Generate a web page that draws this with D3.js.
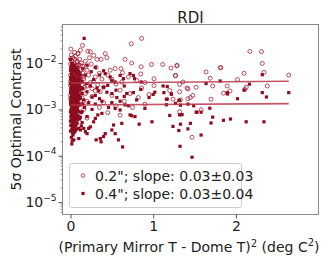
<!DOCTYPE html>
<html><head><meta charset="utf-8">
<script src="https://cdn.jsdelivr.net/npm/d3@7"></script>
<style>body{margin:0;background:#fff}svg{display:block;font-family:"DejaVu Sans",sans-serif}</style>
</head><body><svg id="c" width="332" height="266"></svg>
<script>
const title = "RDI";
const xLabel = ["(Primary Mirror T - Dome T)", "2", " (deg C", "2", ")"];
const yLabel = "5σ Optimal Contrast";
const xTicks = [0, 1, 2];
const yTicks = [1e-5, 1e-4, 1e-3, 1e-2];
const yTickExp = ["−5", "−4", "−3", "−2"];
const legendLabels = ["0.2\"; slope: 0.03±0.03", "0.4\"; slope: 0.03±0.04"];
const fitX = [0, 2.64];
const fit02 = [3.7e-3, 4.05e-3];
const fit04 = [1.24e-3, 1.33e-3];

// 0.2" open circles [x, contrast]
const s02 = [
[0.004,2.0e-2],[0.145,2.4e-2],[0.735,2.6e-2],[0.86,3.4e-2],[2.17,1.78e-2],[2.31,1.76e-2],[2.32,9.8e-3],[2.34,6.3e-3],[2.64,5.5e-3],[2.38,3.2e-3],[2.10,6.0e-3],[2.02,4.4e-3],[2.125,3.0e-3],[2.11,2.7e-3],[1.82,7.9e-3],[1.64,6.4e-3],[1.69,4.7e-3],[1.895,3.2e-3],[1.72,3.2e-3],[1.93,2.5e-3],[1.85,2.24e-3],[1.70,1.66e-3],[1.58,9.8e-4],[1.47,2.5e-4],[1.32,8.9e-4],[1.48,2.0e-3],[1.45,1.8e-3],[1.42,1.7e-3],[1.52,3.0e-3],[1.42,2.76e-3],[1.29,8.9e-3],[1.215,7.8e-3],[1.27,5.4e-3],[1.36,3.9e-3],[1.32,3.45e-3],[1.20,2.55e-3],[1.24,1.66e-3],[1.33,1.6e-3],[1.32,2.4e-3],[0.98,9.3e-3],[1.115,9.3e-3],[1.285,8.7e-3],[1.01,4.6e-3],[1.27,5.3e-3],[1.81,8.0e-3],[1.01,3.27e-3],[1.41,2.9e-3],
[0.21,1.8e-2],[0.24,1.74e-2],[0.28,1.46e-2],[0.42,1.6e-2],[0.32,1.2e-2],[0.37,1.2e-2],[0.44,1.3e-2],[0.66,1.2e-2],[0.74,1.0e-2],[0.855,8.3e-3],[0.54,7.6e-3],[0.61,7.6e-3],[0.63,6.2e-3],[0.31,8.1e-3],[0.86,2.9e-3],[0.82,1.8e-3],[0.25,9.5e-3],[0.18,1.1e-2],[0.2,7e-3],[0.35,6e-3],[0.45,5.5e-3],[0.5,4.5e-3],[0.55,3.5e-3],[0.7,5e-3],[0.8,4.2e-3],[0.9,3.8e-3],[0.28,4e-3],[0.4,3e-3],[0.6,2.6e-3],[0.72,2.2e-3],[0.5,2e-3],[0.3,2.5e-3],[0.65,1.5e-3],[0.4,1.4e-3],[0.55,1.2e-3],[0.75,1.1e-3],[0.9,1.3e-3],[0.95,2.1e-3],[0.2,3.2e-3],[0.16,5e-3],[0.38,4.5e-3],[0.62,3.9e-3],[0.48,7.0e-3],[0.85,5.8e-3],[0.23,1.3e-2],[0.15,8.5e-3],[0.26,1.9e-3],[0.35,1.1e-3],[0.45,8.5e-4],[0.6,7.5e-4],[0.2,6.5e-4],
[0.01,1.5e-2],[0.03,1.3e-2],[0.06,1.4e-2],[0.09,1.6e-2],[0.02,1.1e-2],[0.05,1.2e-2],[0.08,1.05e-2],[0.11,1.2e-2],[0.0,9.5e-3],[0.04,9e-3],[0.07,8.5e-3],[0.1,9.2e-3],[0.13,1.0e-2],[0.01,8e-3],[0.03,7.5e-3],[0.06,7e-3],[0.09,7.8e-3],[0.12,7.2e-3],[0.02,6.5e-3],[0.05,6e-3],[0.08,6.3e-3],[0.11,5.8e-3],[0.0,5.5e-3],[0.03,5.2e-3],[0.07,5e-3],[0.1,4.8e-3],[0.13,5.3e-3],[0.01,4.5e-3],[0.04,4.2e-3],[0.06,4.4e-3],[0.09,4.0e-3],[0.12,4.3e-3],[0.02,3.8e-3],[0.05,3.6e-3],[0.08,3.5e-3],[0.11,3.7e-3],[0.0,3.3e-3],[0.03,3.1e-3],[0.06,3.0e-3],[0.1,3.2e-3],[0.14,3.4e-3],[0.01,2.8e-3],[0.04,2.7e-3],[0.07,2.6e-3],[0.09,2.8e-3],[0.12,2.5e-3],[0.02,2.3e-3],[0.05,2.2e-3],[0.08,2.1e-3],[0.11,2.4e-3],[0.0,2.0e-3],[0.03,1.9e-3],[0.06,1.8e-3],[0.1,1.7e-3],[0.02,1.6e-3],[0.05,1.5e-3],[0.08,1.4e-3],[0.12,1.5e-3],[0.01,1.3e-3],[0.04,1.2e-3],[0.07,1.1e-3],[0.03,1.0e-3],[0.06,9e-4],[0.09,8e-4],[0.02,7.5e-4],[0.05,6.5e-4],[0.01,5.5e-4],[0.04,4.5e-4],[0.08,1.1e-2],[0.15,6.0e-3],[0.16,4.5e-3],[0.17,3.0e-3],[0.18,2.2e-3],[0.14,1.8e-3],[0.2,1.5e-3],[0.13,1.3e-3],[0.16,1.0e-3],[0.19,8.5e-3],[0.22,5.5e-3],[0.24,3.8e-3],[0.26,2.8e-3],[0.3,5.0e-3],[0.33,3.4e-3],[0.36,2.4e-3],[0.12,8.8e-3],[0.0,1.25e-2],[0.05,1.7e-2],[0.09,1.6e-2],[0.12,1.9e-2],
[0.02,8.8e-3],[0.05,8.2e-3],[0.08,9.0e-3],[0.01,6.8e-3],[0.04,6.2e-3],[0.07,6.8e-3],[0.1,6.0e-3],[0.02,4.8e-3],[0.05,4.6e-3],[0.08,4.7e-3],[0.0,4.0e-3],[0.03,3.9e-3],[0.06,3.4e-3],[0.09,3.3e-3],[0.01,2.5e-3],[0.04,2.4e-3],[0.07,2.2e-3],[0.1,2.1e-3],[0.0,1.7e-3],[0.04,1.6e-3],[0.07,1.5e-3],[0.02,1.25e-3],[0.05,1.1e-3],[0.09,1.2e-3]
];

// 0.4" filled squares [x, contrast]
const s04 = [
[0.165,3.4e-2],[0.985,5.4e-4],[1.2,7.4e-4],[1.24,4.3e-4],[1.31,3.5e-4],[1.33,4.8e-4],[1.32,7.6e-4],[1.35,7.7e-4],[1.325,1.6e-4],[1.42,3.8e-4],[1.45,5.0e-4],[1.47,9.3e-5],[1.52,8.7e-4],[1.58,2.8e-4],[1.685,1.06e-3],[1.72,6.8e-4],[1.70,5.1e-4],[1.85,5.8e-4],[1.935,6.2e-4],[2.125,5.4e-4],[2.34,5.4e-4],[1.49,1.2e-3],[1.42,1.3e-3],[1.16,1.26e-3],[1.27,1.35e-3],[1.33,1.23e-3],[2.32,5.6e-3],[2.165,3.5e-3],[2.1,2.6e-3],[2.32,2.3e-3],[2.37,1.85e-3],[2.64,2.3e-3],[2.02,1.7e-3],[1.64,3.6e-3],[1.90,2.15e-3],[1.22,2.13e-3],[1.17,1.66e-3],[1.32,1.58e-3],[1.58,8.7e-4],[1.53,8.7e-4],[1.17,3.1e-3],[1.12,3.2e-3],[1.0,2.1e-3],[1.02,2.35e-3],[1.13,2.3e-3],[1.22,2.15e-3],[1.16,1.66e-3],[1.31,1.55e-3],[1.81,4.1e-3],[1.895,2.3e-3],
[0.72,5.9e-3],[0.855,3.9e-3],[0.76,5.4e-3],[0.775,4.6e-3],[0.6,5.4e-3],[0.64,4.6e-3],[0.42,5.9e-3],[0.48,5e-3],[0.5,4.2e-3],[0.54,3.9e-3],[0.76,2.3e-3],[0.68,2.2e-3],[0.65,1.9e-3],[0.56,1.8e-3],[0.5,2.2e-3],[0.44,2.35e-3],[0.4,3e-3],[0.34,2.5e-3],[0.3,2e-3],[0.26,1.85e-3],
[0.016,1.8e-4],[0.04,2.2e-4],[0.10,2.35e-4],[0.31,2.2e-4],[0.58,2.2e-4],[0.63,1.55e-4],[0.36,2.35e-4],[0.37,2e-4],[0.42,3e-4],[0.40,2.6e-4],[0.5,3.6e-4],[0.54,3e-4],[0.52,4.6e-4],[0.2,3e-4],[0.18,3.3e-4],[0.16,3.9e-4],[0.1,3.9e-4],[0.22,3.9e-4],[0.24,4.2e-4],[0.3,6.4e-4],[0.33,7.6e-4],[0.38,8.2e-4],[0.28,5.4e-4],[0.72,7.6e-4],[0.74,7.3e-4],[0.83,4.8e-4],[0.78,7e-4],[0.62,5e-4],[0.6,9.7e-4],[0.46,1.1e-3],[0.54,1.05e-3],[0.66,1.25e-3],[0.14,9e-4],[0.2,7e-4],[0.08,5.9e-4],
[0.0,1.2e-2],[0.02,1.0e-2],[0.04,9e-3],[0.01,8.5e-3],[0.06,8e-3],[0.03,7.5e-3],[0.0,7e-3],[0.08,7.2e-3],[0.05,6.6e-3],[0.02,6.2e-3],[0.1,6.5e-3],[0.07,5.8e-3],[0.01,5.6e-3],[0.04,5.3e-3],[0.12,5.5e-3],[0.09,5e-3],[0.0,4.8e-3],[0.03,4.6e-3],[0.06,4.4e-3],[0.11,4.5e-3],[0.02,4.1e-3],[0.05,3.9e-3],[0.08,3.8e-3],[0.14,4.0e-3],[0.0,3.6e-3],[0.03,3.4e-3],[0.07,3.3e-3],[0.1,3.5e-3],[0.01,3.1e-3],[0.04,2.9e-3],[0.06,2.8e-3],[0.09,3.0e-3],[0.13,2.9e-3],[0.02,2.6e-3],[0.05,2.5e-3],[0.08,2.4e-3],[0.11,2.6e-3],[0.0,2.3e-3],[0.03,2.2e-3],[0.06,2.1e-3],[0.1,2.0e-3],[0.01,1.9e-3],[0.04,1.8e-3],[0.07,1.75e-3],[0.12,1.8e-3],[0.02,1.6e-3],[0.05,1.55e-3],[0.09,1.5e-3],[0.0,1.45e-3],[0.03,1.35e-3],[0.06,1.3e-3],[0.11,1.25e-3],[0.01,1.2e-3],[0.04,1.15e-3],[0.08,1.1e-3],[0.02,1.0e-3],[0.05,9.5e-4],[0.1,9e-4],[0.0,8.8e-4],[0.03,8.3e-4],[0.07,8e-4],[0.13,8.5e-4],[0.01,7.5e-4],[0.04,7e-4],[0.09,6.8e-4],[0.02,6.3e-4],[0.06,6e-4],[0.11,6.2e-4],[0.0,5.6e-4],[0.03,5.2e-4],[0.08,5e-4],[0.01,4.6e-4],[0.05,4.3e-4],[0.02,3.9e-4],[0.07,3.7e-4],[0.0,3.4e-4],[0.04,3.2e-4],[0.03,2.8e-4],[0.01,2.5e-4],[0.02,2.1e-4],
[0.15,2.8e-3],[0.16,1.6e-3],[0.17,1.1e-3],[0.18,5.5e-3],[0.19,3.6e-3],[0.2,2.4e-3],[0.22,1.4e-3],[0.24,3.2e-3],[0.26,1.0e-3],[0.28,4.4e-3],[0.3,1.3e-3],[0.32,2.9e-3],[0.35,1.7e-3],[0.38,1.5e-3],[0.4,6.8e-3],[0.45,3.3e-3],[0.5,1.4e-3],[0.55,2.6e-3],[0.6,1.5e-3],[0.65,3.2e-3],[0.7,1.2e-3],[0.8,1.6e-3],[0.85,2.7e-3],[0.9,1.05e-3],[0.95,1.8e-3],[0.25,6.5e-3],[0.35,5.5e-3],[0.3,8e-3],[0.15,7.5e-3],[0.2,9e-3],
[0.015,9.5e-3],[0.045,8.2e-3],[0.075,7.8e-3],[0.005,7.8e-3],[0.035,6.9e-3],[0.065,6.3e-3],[0.095,5.9e-3],[0.015,5.1e-3],[0.045,4.9e-3],[0.075,4.2e-3],[0.105,4.1e-3],[0.005,4.3e-3],[0.025,3.8e-3],[0.055,3.5e-3],[0.085,3.2e-3],[0.115,3.0e-3],[0.015,3.3e-3],[0.035,3.0e-3],[0.065,2.6e-3],[0.095,2.7e-3],[0.005,2.7e-3],[0.025,2.4e-3],[0.055,2.3e-3],[0.085,2.1e-3],[0.015,2.1e-3],[0.045,2.0e-3],[0.075,1.9e-3],[0.105,1.7e-3],[0.005,1.7e-3],[0.025,1.75e-3],[0.055,1.65e-3],[0.085,1.6e-3],[0.015,1.5e-3],[0.035,1.45e-3],[0.065,1.4e-3],[0.095,1.3e-3],[0.005,1.3e-3],[0.025,1.2e-3],[0.055,1.15e-3],[0.085,1.0e-3],[0.015,1.05e-3],[0.045,1.0e-3],[0.075,9.2e-4],[0.005,9.8e-4],[0.025,9e-4],[0.055,8.5e-4],[0.015,7.9e-4],[0.045,7.6e-4],[0.085,7.3e-4],[0.005,6.8e-4],[0.035,6.5e-4],[0.065,6.7e-4],[0.015,5.8e-4],[0.045,5.6e-4],[0.025,4.9e-4],[0.055,5.1e-4],[0.005,4.5e-4],[0.035,4.2e-4],[0.065,4.4e-4],[0.015,3.6e-4],[0.045,3.7e-4],[0.025,3.1e-4],[0.055,3.3e-4],[0.12,3.6e-4],[0.13,4.4e-4],[0.14,5.2e-4],[0.12,6.8e-4],[0.15,1.3e-3],[0.14,2.2e-3]
];

const svg = d3.select("#c");
const L = 62.5, R = 318.5, T = 24.5, B = 214.5;
const x = d3.scaleLinear().domain([-0.097, 3.0]).range([L, R]);
const y = d3.scaleLog().domain([Math.pow(10, -5.267), Math.pow(10, -1.169)]).range([B, T]);

const sqColor = "#8e0c1f", ciColor = "#a31a30", lineColor = "#b8374c";

svg.append("defs").append("clipPath").attr("id","clip").append("rect")
  .attr("x", L).attr("y", T).attr("width", R-L).attr("height", B-T);
const g = svg.append("g").attr("clip-path","url(#clip)");

g.selectAll("circle.o").data(s02).join("circle")
  .attr("cx", d => x(d[0])).attr("cy", d => y(d[1])).attr("r", 2)
  .attr("fill","none").attr("stroke", ciColor).attr("stroke-width", 0.85).attr("opacity",0.9);
g.selectAll("rect.s").data(s04).join("rect")
  .attr("x", d => x(d[0]) - 1.6).attr("y", d => y(d[1]) - 1.6)
  .attr("width", 3.2).attr("height", 3.2).attr("fill", sqColor);

const line = d3.line().x(d => x(d[0])).y(d => y(d[1]));
[fit02, fit04].forEach(f => {
  g.append("path").datum(fitX.map((v,i)=>[v,f[i]])).attr("d", line)
    .attr("fill","none").attr("stroke", lineColor).attr("stroke-width",1.6).attr("opacity",0.85);
});

svg.append("rect").attr("x", L).attr("y", T).attr("width", R-L).attr("height", B-T)
  .attr("fill","none").attr("stroke","#8a8a8a").attr("stroke-width",1);

const xa = svg.append("g").attr("transform", `translate(0,${B})`)
  .call(d3.axisBottom(x).tickValues(xTicks).tickSize(4).tickPadding(3).tickFormat(d3.format("d")));
xa.select(".domain").remove();
xa.selectAll("line").attr("stroke","#555");
xa.selectAll("text").attr("font-size","14px").attr("fill","#222").attr("font-family","DejaVu Sans");

const minor = [];
for (let e = -6; e <= -1; e++) for (let k = 2; k <= 9; k++) {
  const v = k * Math.pow(10, e);
  if (v >= y.domain()[0] && v <= y.domain()[1]) minor.push(v);
}
const ya = svg.append("g").attr("transform", `translate(${L},0)`)
  .call(d3.axisLeft(y).tickValues(yTicks).tickSize(4).tickPadding(2).tickFormat(() => ""));
ya.select(".domain").remove();
ya.selectAll("line").attr("stroke","#555");
ya.selectAll(".tick text").each(function(d) {
  const t = d3.select(this).attr("font-size","14px").attr("fill","#222")
    .attr("font-family","DejaVu Sans").attr("dy","0.32em");
  t.text("10");
  t.append("tspan").attr("font-size","9px").attr("dy","-0.7em").text(yTickExp[yTicks.indexOf(d)]);
});
svg.append("g").selectAll("line").data(minor).join("line")
  .attr("x1", L - 2).attr("x2", L).attr("y1", d => y(d)).attr("y2", d => y(d))
  .attr("stroke","#555").attr("stroke-width",0.6);

svg.append("text").attr("x", (L+R)/2).attr("y", 22.5).attr("text-anchor","middle")
  .attr("font-size","15px").attr("fill","#222").text(title);

const xl = svg.append("text").attr("x", 189).attr("y", 252).attr("text-anchor","middle")
  .attr("font-size","14px").attr("fill","#222");
xLabel.forEach((s, i) => {
  const sp = xl.append("tspan").text(s);
  if (i % 2 === 1) sp.attr("font-size","10px").attr("dy","-0.55em");
  else if (i > 0) sp.attr("dy","0.39em");
});

svg.append("text").attr("transform", `translate(21,${(T+B)/2}) rotate(-90)`)
  .attr("text-anchor","middle").attr("font-size","14px").attr("fill","#222").text(yLabel);

const lg = svg.append("g");
lg.append("rect").attr("x", 69.5).attr("y", 163.5).attr("width", 172).attr("height", 44)
  .attr("rx", 2).attr("fill","#fff").attr("fill-opacity",0.85).attr("stroke","#cccccc");
const rows = [175.5, 193.5];
lg.append("circle").attr("cx", 83).attr("cy", rows[0]).attr("r", 1.8)
  .attr("fill","none").attr("stroke", ciColor).attr("stroke-width",0.8);
lg.append("rect").attr("x", 83-1.6).attr("y", rows[1]-1.6).attr("width",3.2).attr("height",3.2).attr("fill", sqColor);
legendLabels.forEach((s, i) => {
  lg.append("text").attr("x", 95).attr("y", rows[i]).attr("dy","0.36em")
    .attr("font-size","14px").attr("fill","#222").text(s);
});
</script></body></html>
